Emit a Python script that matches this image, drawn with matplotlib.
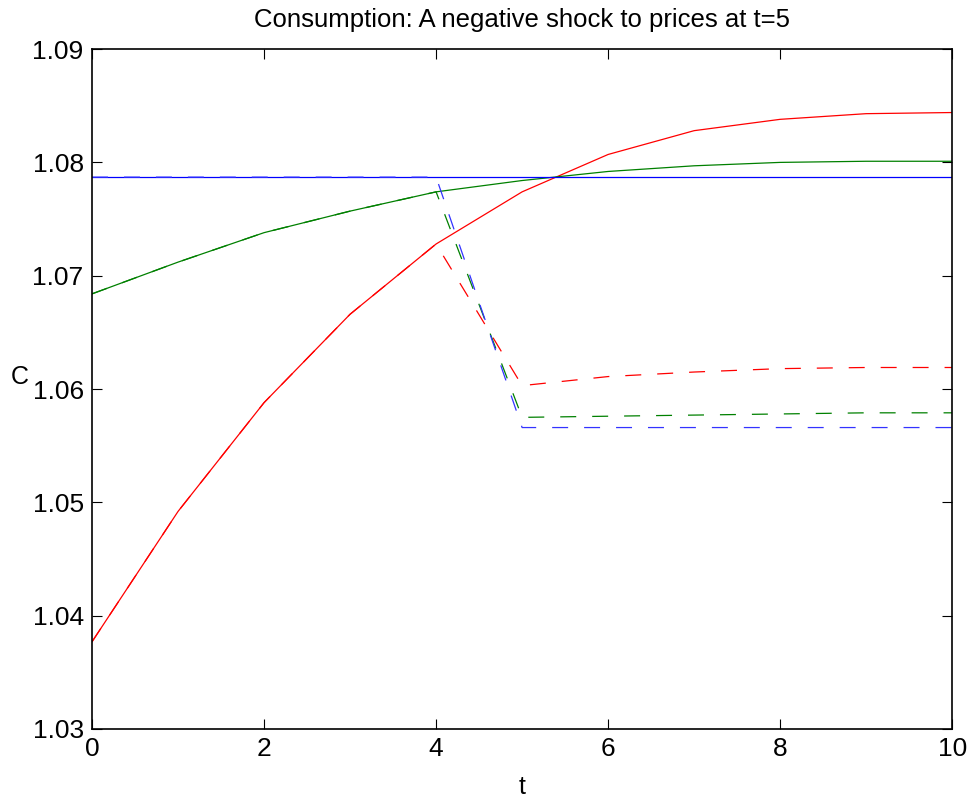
import numpy as np
import matplotlib.pyplot as plt

plt.rcParams['font.family'] = ['Liberation Sans', 'DejaVu Sans']
plt.rcParams['lines.scale_dashes'] = False

t = np.arange(0, 11)

# базовые траектории (сплошные)
c_red = [1.0377, 1.0492, 1.0588, 1.0666, 1.0728, 1.0774,
         1.0807, 1.0828, 1.0838, 1.0843, 1.0844]
c_green = [1.0684, 1.0712, 1.0738, 1.0757, 1.0774, 1.0784,
           1.0792, 1.0797, 1.0800, 1.0801, 1.0801]
c_blue = [1.0787] * 11

# после шока (пунктир)
s_red = c_red[:5] + [1.0603, 1.0611, 1.0615, 1.0618, 1.0619, 1.0619]
s_green = c_green[:5] + [1.0575, 1.0576, 1.0577, 1.0578, 1.0579, 1.0579]
s_blue = c_blue[:5] + [1.0566] * 6

fig = plt.figure(figsize=(9.73, 7.98), dpi=100)
ax = fig.add_axes([0.0946, 0.0865, 0.884, 0.852])

lw = 0.9
ax.plot(t, c_red, color=(1, 0, 0), lw=lw)
ax.plot(t, c_green, color=(0, 0.5, 0), lw=lw)
ax.plot(t, c_blue, color=(0, 0, 1), lw=lw)
ax.plot(t, s_red, color=(1, 0, 0), lw=lw, dashes=(11.5, 11.5))
ax.plot(t, s_green, color=(0, 0.5, 0), lw=lw, dashes=(11.5, 11.5))
ax.plot(t, s_blue, color=(0.2, 0.2, 1), lw=lw, dashes=(11.5, 11.5))

ax.set_xlim(0, 10)
ax.set_ylim(1.03, 1.09)
ax.set_xticks([0, 2, 4, 6, 8, 10])
ax.set_yticks([1.03, 1.04, 1.05, 1.06, 1.07, 1.08, 1.09])
ax.set_yticklabels(['1.03', '1.04', '1.05', '1.06', '1.07', '1.08', '1.09'])
ax.tick_params(direction='in', length=7, width=0.8, top=True, right=True,
               labelsize=19, pad=6)
for s in ax.spines.values():
    s.set_linewidth(1.2)

ax.set_title('Consumption: A negative shock to prices at t=5', fontsize=18.5, pad=16)
ax.set_xlabel('t', fontsize=18, labelpad=10)
ax.set_ylabel('C', fontsize=18, rotation=0, labelpad=9)

fig.savefig('out.png', dpi=100)
